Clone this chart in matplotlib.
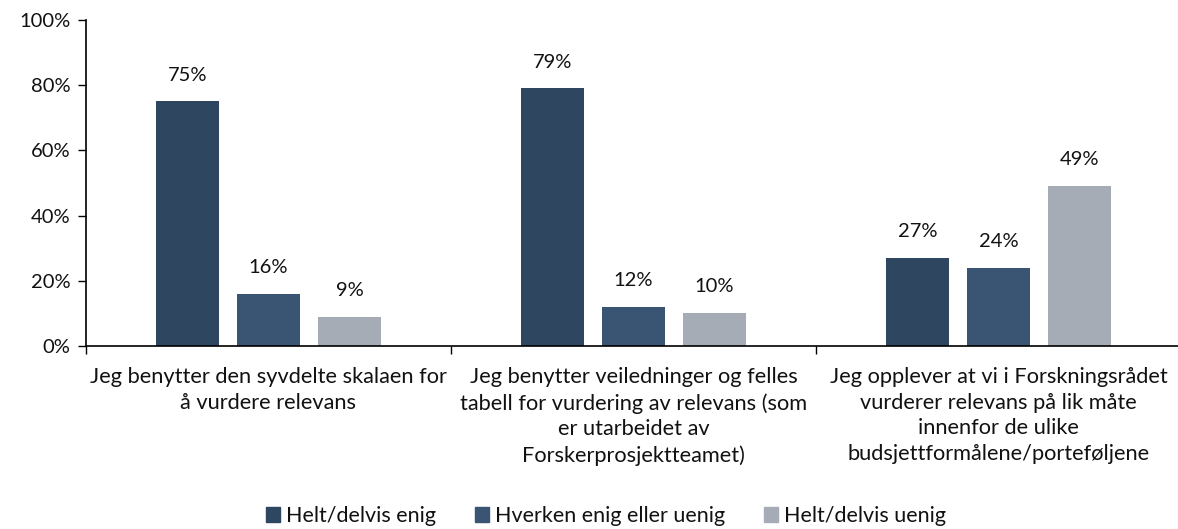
import matplotlib
matplotlib.use("Agg")
import matplotlib.pyplot as plt
import numpy as np
from matplotlib.ticker import FixedLocator, PercentFormatter

plt.rcParams['font.family'] = ['Lato', 'DejaVu Sans']

categories = [
    "Jeg benytter den syvdelte skalaen for\nå vurdere relevans",
    "Jeg benytter veiledninger og felles\ntabell for vurdering av relevans (som\ner utarbeidet av\nForskerprosjektteamet)",
    "Jeg opplever at vi i Forskningsrådet\nvurderer relevans på lik måte\ninnenfor de ulike\nbudsjettformålene/porteføljene",
]
series_names = ["Helt/delvis enig", "Hverken enig eller uenig", "Helt/delvis uenig"]
enig = [75, 79, 27]
hverken = [16, 12, 24]
uenig = [9, 10, 49]
colors = ["#2E465F", "#3A5573", "#A6ACB6"]
yticks = [0, 20, 40, 60, 80, 100]

fig = plt.figure(figsize=(11.78, 5.29), dpi=100)
ax = fig.add_axes([86/1178, 183/529, 1095/1178, 326/529])

x = np.arange(len(categories))
width = 0.175
step = 0.222
for i, (vals, name, c) in enumerate(zip([enig, hverken, uenig], series_names, colors)):
    pos = x + (i - 1) * step
    ax.bar(pos, vals, width, color=c, label=name)
    for p, v in zip(pos, vals):
        ax.text(p, v + 5.5, f"{v}%", ha='center', va='bottom', fontsize=14.5, color='#111111')

ax.set_xlim(-0.5, 2.5)
ax.set_ylim(0, 100)
ax.yaxis.set_major_locator(FixedLocator(yticks))
ax.yaxis.set_major_formatter(PercentFormatter(decimals=0))
ax.tick_params(axis='y', labelsize=14.5, length=6, width=1, direction='out', pad=5,
               labelcolor='#111111')
ax.set_xticks([-0.5, 0.5, 1.5, 2.5])
ax.set_xticklabels([])
ax.tick_params(axis='x', length=6, width=1, direction='out')
for s in ['top', 'right']:
    ax.spines[s].set_visible(False)
ax.spines['left'].set_linewidth(1.2)
ax.spines['bottom'].set_linewidth(1.2)

for xi, lab in zip(x, categories):
    ax.text(xi, -6.5, lab, ha='center', va='top', fontsize=15.7, linespacing=1.35,
            color='#111111', transform=ax.transData)

handles = [plt.Rectangle((0, 0), 1, 1, color=c) for c in colors]
fig.legend(handles, series_names, loc='center', bbox_to_anchor=(606/1178, 1 - 516/529),
           ncol=3, frameon=False, fontsize=15.5, handlelength=0.65, handleheight=0.65,
           handletextpad=0.3, columnspacing=1.8, labelcolor='#111111')

fig.savefig("out.png", dpi=100)
